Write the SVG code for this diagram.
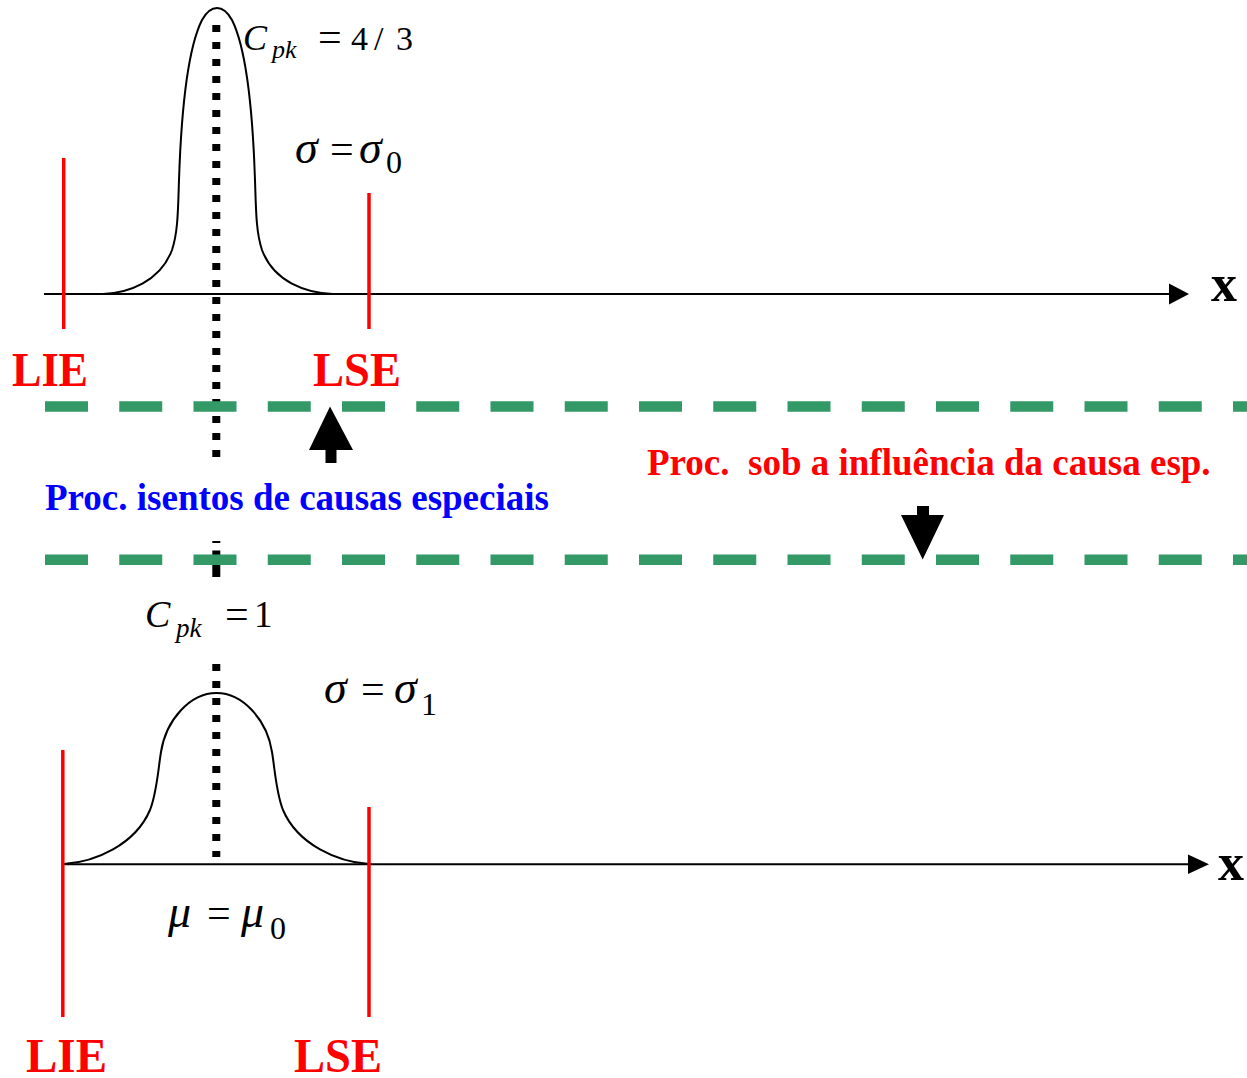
<svg xmlns="http://www.w3.org/2000/svg" width="1247" height="1078" viewBox="0 0 1247 1078">
<style>
.serif{font-family:"Liberation Serif","Times New Roman",serif}
.lim{font-family:"Liberation Serif","Times New Roman",serif;font-weight:bold;fill:#FF0000;font-size:48px}
.it{font-style:italic}
.redline{stroke:#FF0000;stroke-width:3.5;fill:none}
.axis{stroke:#000;stroke-width:2;fill:none}
.curve{stroke:#000;stroke-width:2;fill:none}
.dots{stroke:#000;stroke-width:8;stroke-dasharray:7 10;fill:none}
.green{stroke:#339966;stroke-width:10.5;stroke-dasharray:43 31.25;fill:none}
</style>
<rect width="1247" height="1078" fill="#fff"/>

<g id="top-plot">
  <line class="dots" x1="216.3" y1="25" x2="216.3" y2="458"/>
  <path class="curve" d="M103,294 C128,293 160,282 172,250 C178,232 178,210 179,180 C181,120 187,50 202,20 C207,11 212,8 217,8 C222,8 227,11 232,20 C247,50 253,120 255,180 C256,210 256,232 262,250 C274,282 306,293 333,294"/>
  <line class="axis" x1="44" y1="294" x2="1170" y2="294"/>
  <polygon points="1169,283.5 1189,294 1169,304.5" fill="#000"/>
  <text class="serif" x="1211" y="300.5" font-size="52" font-weight="bold">x</text>
  <line class="redline" x1="63.7" y1="158" x2="63.7" y2="329"/>
  <line class="redline" x1="369" y1="193" x2="369" y2="329"/>
  <text class="lim" x="12" y="386" textLength="76" lengthAdjust="spacingAndGlyphs">LIE</text>
  <text class="lim" x="313" y="386" textLength="88" lengthAdjust="spacingAndGlyphs">LSE</text>
  <text class="serif" font-size="34" y="50"><tspan class="it" x="243" font-size="36">C</tspan><tspan class="it" x="272" y="58" font-size="26">pk</tspan><tspan x="318" y="51" font-size="42">=</tspan><tspan x="351" y="50">4</tspan><tspan x="374">/</tspan><tspan x="396">3</tspan></text>
  <text class="serif" font-size="42" y="163"><tspan class="it" x="295" font-size="46">σ</tspan><tspan x="330">=</tspan><tspan class="it" x="359" font-size="46">σ</tspan><tspan x="386" y="173" font-size="32">0</tspan></text>
</g>

<g id="bottom-plot">
  <rect x="212.3" y="541" width="8" height="2" fill="#000"/>
  <rect x="212.3" y="550.5" width="8" height="26.5" fill="#000"/>
  <line class="dots" x1="216.3" y1="664" x2="216.3" y2="857"/>
  <path class="curve" d="M64,864 C95,862 135,845 150,810 C157,792 158,770 161,752 C166,720 190,693 216.5,693 C243,693 267,720 272,752 C275,770 276,792 283,810 C298,845 338,862 369,864"/>
  <line class="axis" x1="64" y1="864.3" x2="1190" y2="864.3"/>
  <polygon points="1188,854.5 1209,864.3 1188,874" fill="#000"/>
  <text class="serif" x="1218" y="880" font-size="52" font-weight="bold">x</text>
  <line class="redline" x1="62.8" y1="750" x2="62.8" y2="1017"/>
  <line class="redline" x1="369" y1="807" x2="369" y2="1017"/>
  <text class="lim" x="26" y="1072" textLength="81" lengthAdjust="spacingAndGlyphs">LIE</text>
  <text class="lim" x="294" y="1072" textLength="88" lengthAdjust="spacingAndGlyphs">LSE</text>
  <text class="serif" font-size="37" y="627"><tspan class="it" x="145" font-size="38">C</tspan><tspan class="it" x="176" y="637" font-size="27">pk</tspan><tspan x="225" y="628" font-size="42">=</tspan><tspan x="254" y="627">1</tspan></text>
  <text class="serif" font-size="42" y="703"><tspan class="it" x="324" font-size="46">σ</tspan><tspan x="361">=</tspan><tspan class="it" x="394" font-size="46">σ</tspan><tspan x="421" y="715" font-size="32">1</tspan></text>
  <text class="serif" font-size="42" y="927"><tspan class="it" x="168" font-size="46">μ</tspan><tspan x="207">=</tspan><tspan class="it" x="241" font-size="46">μ</tspan><tspan x="270" y="939" font-size="32">0</tspan></text>
</g>

<g id="band">
  <line class="green" x1="45" y1="406.5" x2="1247" y2="406.5"/>
  <line class="green" x1="45" y1="559.7" x2="1247" y2="559.7"/>
</g>

<g id="connectors">
  <polygon id="arrow-up" points="330,406.5 353,450 336.5,450 336.5,463 325.5,463 325.5,450 309,450" fill="#000"/>
  <polygon id="arrow-down" points="917,506 929,506 929,515 944,515 922.7,559.5 901,515 917,515" fill="#000"/>
</g>

<g id="labels">
  <text class="serif" x="45" y="510" font-size="37" font-weight="bold" fill="#0000FF">Proc. isentos de causas especiais</text>
  <text class="serif" x="647" y="475" font-size="37" font-weight="bold" fill="#FF0000" xml:space="preserve">Proc.  sob a influência da causa esp.</text>
</g>
</svg>
